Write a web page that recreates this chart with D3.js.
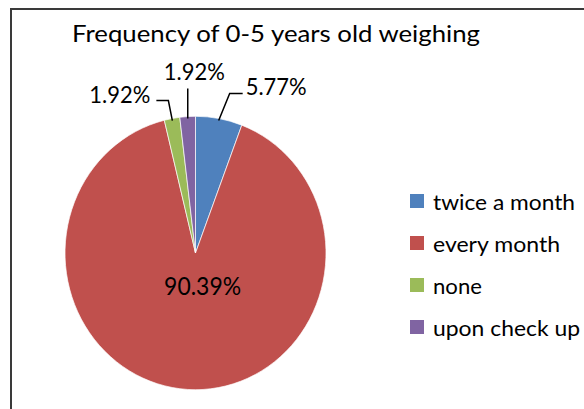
<!DOCTYPE html>
<html>
<head>
<meta charset="utf-8">
<script src="https://cdn.jsdelivr.net/npm/d3@7"></script>
<style>
  html, body { margin: 0; padding: 0; background: #fff; }
  svg { display: block; }
  text { font-family: Lato, "Open Sans", sans-serif; fill: #000; }
</style>
</head>
<body>
<div id="chart"></div>
<script>
const chartTitle = "Frequency of 0-5 years old weighing";
const categories = ["twice a month", "every month", "none", "upon check up"];
const values = [5.77, 90.39, 1.92, 1.92];
const colors = ["#4F81BD", "#C0504D", "#9BBB59", "#8064A2"];

const width = 584, height = 409;
const cx = 195.5, cy = 253, rx = 130.5, ry = 136.7;

// label placement per slice (leader elbow offset from arc edge, text side)
const labelLayout = [
  { dx: 11, dy: -27, side: "right" },
  { inside: true },
  { dx: -4, dy: -20, side: "left" },
  { dx: 0, dy: -30, side: "top" }
];

const svg = d3.select("#chart").append("svg")
  .attr("width", width)
  .attr("height", height);

// chart frame
svg.append("rect")
  .attr("x", 11).attr("y", 9)
  .attr("width", 620).attr("height", 430)
  .attr("fill", "none")
  .attr("stroke", "#3a3a3a")
  .attr("stroke-width", 2);

svg.append("text")
  .attr("x", 72).attr("y", 42)
  .attr("font-size", 24)
  .attr("textLength", 408)
  .attr("lengthAdjust", "spacingAndGlyphs")
  .text(chartTitle);

const pie = d3.pie().sort(null).value(d => d);
const arcs = pie(values);
const arc = d3.arc().innerRadius(0).outerRadius(ry);

svg.append("g")
  .attr("transform", `translate(${cx},${cy}) scale(${rx / ry},1)`)
  .selectAll("path")
  .data(arcs)
  .join("path")
  .attr("d", arc)
  .attr("fill", (d, i) => colors[i])
  .attr("stroke", "#fff")
  .attr("stroke-width", 0.7);

const fmt = v => v.toFixed(2) + "%";

function edgePoint(a, k) {
  return [cx + rx * k * Math.sin(a), cy - ry * k * Math.cos(a)];
}

const lbl = svg.append("g");
arcs.forEach((d, i) => {
  const L = labelLayout[i];
  const mid = (d.startAngle + d.endAngle) / 2;
  if (L.inside) {
    const [x, y] = edgePoint(mid, 0.24);
    lbl.append("text")
      .attr("x", x + 9).attr("y", y + 9)
      .attr("text-anchor", "middle")
      .attr("font-size", 25)
      .attr("textLength", 77)
      .attr("lengthAdjust", "spacingAndGlyphs")
      .text(fmt(d.data));
    return;
  }
  const [x0, y0] = edgePoint(mid, 0.985);
  const x1 = x0 + L.dx, y1 = y0 + L.dy;
  const pts = [[x0, y0], [x1, y1]];
  let tx, ty, anchor;
  if (L.side === "right") {
    pts.push([x1 + 13, y1]);
    tx = x1 + 16; ty = y1 + 1; anchor = "start";
  } else if (L.side === "left") {
    pts.push([x1 - 12, y1]);
    tx = x1 - 18; ty = y1 + 2; anchor = "end";
  } else {
    tx = x1 + 6.5; ty = y1 - 9; anchor = "middle";
  }
  lbl.append("path")
    .attr("d", d3.line()(pts))
    .attr("fill", "none")
    .attr("stroke", "#000")
    .attr("stroke-width", 1.5);
  lbl.append("text")
    .attr("x", tx).attr("y", ty)
    .attr("text-anchor", anchor)
    .attr("font-size", 24)
    .attr("textLength", 61)
    .attr("lengthAdjust", "spacingAndGlyphs")
    .text(fmt(d.data));
});

// legend
const legendWidths = [142, 127, 49, 147];
const legend = svg.append("g");
categories.forEach((c, i) => {
  const y = 201 + i * 42;
  legend.append("rect")
    .attr("x", 410).attr("y", y - 7)
    .attr("width", 14).attr("height", 14)
    .attr("fill", colors[i]);
  legend.append("text")
    .attr("x", 433).attr("y", y + 9)
    .attr("font-size", 22)
    .attr("textLength", legendWidths[i])
    .attr("lengthAdjust", "spacingAndGlyphs")
    .text(c);
});
</script>
</body>
</html>
